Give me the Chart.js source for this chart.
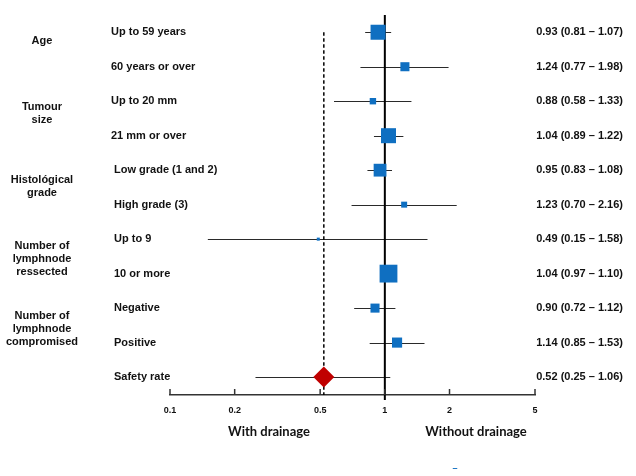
<!DOCTYPE html>
<html>
<head>
<meta charset="utf-8">
<script src="https://cdn.jsdelivr.net/npm/chart.js@4/dist/chart.umd.min.js"></script>
<style>
  body { margin: 0; background: #fff; }
  #c { display: block; }
</style>
</head>
<body>
<canvas id="c" width="636" height="476"></canvas>
<script>
const rowLabels = ['Up to 59 years', '60 years or over', 'Up to 20 mm', '21 mm or over',
  'Low grade (1 and 2)', 'High grade (3)', 'Up to 9', '10 or more', 'Negative', 'Positive', 'Safety rate'];
const estimates = [0.93, 1.24, 0.88, 1.04, 0.95, 1.23, 0.49, 1.04, 0.90, 1.14, 0.52];
const lower = [0.81, 0.77, 0.58, 0.89, 0.83, 0.70, 0.15, 0.97, 0.72, 0.85, 0.25];
const upper = [1.07, 1.98, 1.33, 1.22, 1.08, 2.16, 1.58, 1.10, 1.12, 1.53, 1.06];
// peso relativo de cada subgrupo (tamanho do quadrado)
const weights = [22, 8, 4, 22, 16, 3.5, 0.9, 31, 8, 10];
const groups = [
  { lines: ['Age'], rows: [0, 1] },
  { lines: ['Tumour', 'size'], rows: [2, 3] },
  { lines: ['Histológical', 'grade'], rows: [4, 5] },
  { lines: ['Number of', 'lymphnode', 'ressected'], rows: [6, 7] },
  { lines: ['Number of', 'lymphnode', 'compromised'], rows: [8, 9] }
];
const xTicks = [0.1, 0.2, 0.5, 1, 2, 5];
const leftTitle = 'With drainage';
const rightTitle = 'Without drainage';

const pooled = estimates.length - 1;
const BLUE = '#0f6fc1';
const RED = '#c00000';
const FONT = '"Liberation Sans", Arial, sans-serif';

const squares = weights.map((w, i) => ({ x: estimates[i], y: i }));
const raios = weights.map(w => Math.sqrt(w) * 3.2 / Math.SQRT2);

const forestPlugin = {
  id: 'forest',
  beforeDatasetsDraw(chart) {
    const { ctx, chartArea: a, scales: { x, y } } = chart;
    ctx.save();
    // intervalos de confiança
    ctx.strokeStyle = '#2a2a2a';
    ctx.lineWidth = 1;
    estimates.forEach((e, i) => {
      const py = Math.round(y.getPixelForValue(i)) + 0.5;
      ctx.beginPath();
      ctx.moveTo(x.getPixelForValue(lower[i]), py);
      ctx.lineTo(x.getPixelForValue(upper[i]), py);
      ctx.stroke();
    });
    // linha de nulidade
    const x1 = x.getPixelForValue(1);
    ctx.strokeStyle = '#000';
    ctx.lineWidth = 2;
    ctx.beginPath();
    ctx.moveTo(x1, a.top);
    ctx.lineTo(x1, a.bottom + 5);
    ctx.stroke();
    // linha tracejada na estimativa global
    const xp = x.getPixelForValue(estimates[pooled]);
    ctx.lineWidth = 1.5;
    ctx.setLineDash([3.5, 2.5]);
    ctx.beginPath();
    ctx.moveTo(xp, y.getPixelForValue(0));
    ctx.lineTo(xp, a.bottom);
    ctx.stroke();
    ctx.setLineDash([]);
    // marcas do eixo para cima
    ctx.strokeStyle = '#333';
    ctx.lineWidth = 1.5;
    xTicks.forEach(v => {
      const px = x.getPixelForValue(v);
      ctx.beginPath();
      ctx.moveTo(px, a.bottom);
      ctx.lineTo(px, a.bottom - 6);
      ctx.stroke();
    });
    ctx.restore();
  },
  afterDraw(chart) {
    const { ctx, chartArea: a, scales: { x, y } } = chart;
    ctx.save();
    ctx.fillStyle = '#111';
    ctx.textBaseline = 'middle';
    ctx.font = 'bold 11px ' + FONT;
    // rótulos das linhas
    ctx.textAlign = 'left';
    rowLabels.forEach((t, i) => {
      ctx.fillText(t, i < 4 ? 111 : 114, y.getPixelForValue(i));
    });
    // valores à direita
    ctx.textAlign = 'right';
    estimates.forEach((e, i) => {
      const txt = `${e.toFixed(2)} (${lower[i].toFixed(2)} – ${upper[i].toFixed(2)})`;
      ctx.fillText(txt, 623, y.getPixelForValue(i));
    });
    // grupos
    ctx.textAlign = 'center';
    const ajuste = [-0.26, -0.14, -0.02, 0.07, 0.1];
    groups.forEach((g, k) => {
      const mid = (g.rows[0] + g.rows[g.rows.length - 1]) / 2 + ajuste[k];
      const cy = y.getPixelForValue(mid);
      const h = 13.3;
      g.lines.forEach((l, j) => {
        ctx.fillText(l, 42, cy + (j - (g.lines.length - 1) / 2) * h);
      });
    });
    // títulos do eixo
    ctx.font = 'bold 13px Lato, "Open Sans", sans-serif';
    ctx.fillText(leftTitle, 269, a.bottom + 37);
    ctx.fillText(rightTitle, 476, a.bottom + 37);
    ctx.fillStyle = BLUE;
    ctx.font = 'bold 9px ' + FONT;
    ctx.fillText('–', 455, 469);
    ctx.restore();
  }
};

new Chart(document.getElementById('c'), {
  type: 'scatter',
  data: {
    datasets: [
      {
        data: squares,
        pointStyle: 'rect',
        pointRadius: raios,
        pointHoverRadius: raios,
        backgroundColor: BLUE,
        borderWidth: 0
      },
      {
        data: [{ x: estimates[pooled], y: pooled }],
        pointStyle: 'rectRot',
        pointRadius: 10.5,
        pointHoverRadius: 10.5,
        backgroundColor: RED,
        borderWidth: 0
      }
    ]
  },
  options: {
    responsive: false,
    animation: false,
    layout: { padding: { left: 170, right: 101, top: 15, bottom: 0 } },
    plugins: { legend: { display: false }, tooltip: { enabled: false } },
    scales: {
      x: {
        type: 'logarithmic',
        min: 0.1,
        max: 5,
        afterBuildTicks: s => { s.ticks = xTicks.map(v => ({ value: v })); },
        afterFit: s => { s.height = 81; },
        grid: { display: false, drawTicks: false },
        border: { display: true, color: '#333', width: 1.5 },
        ticks: {
          autoSkip: false,
          maxRotation: 0,
          padding: 10,
          color: '#111',
          font: { family: FONT, size: 9, weight: 'bold' },
          callback: v => String(v)
        }
      },
      y: {
        type: 'linear',
        reverse: true,
        min: -0.5,
        max: 10.52,
        display: false
      }
    }
  },
  plugins: [forestPlugin]
});
</script>
</body>
</html>
